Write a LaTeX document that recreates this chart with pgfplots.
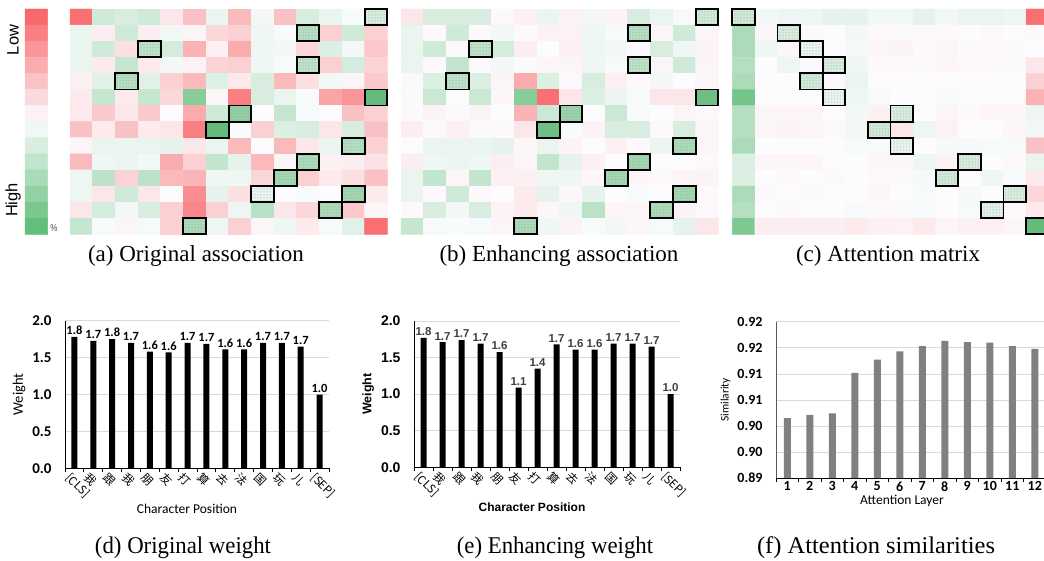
\documentclass[border=0pt]{standalone}
\usepackage{fontspec}
\setmainfont{Liberation Serif}
\newfontfamily\calibri{Carlito}
\newfontfamily\arial{Liberation Sans}
\newfontfamily\cjk{Noto Sans CJK SC}
\usepackage{pgfplots}
\pgfplotsset{compat=1.18}
\usetikzlibrary{patterns}
\pgfplotsset{/pgf/number format/assume math mode=true}
\pgfplotsset{colormap={xl}{rgb255(0cm)=(248,105,107); rgb255(100cm)=(252,252,255); rgb255(185cm)=(99,190,123)}}
\pgfdeclareplotmark{hlbox}{%
  \pgfpathrectangle{\pgfqpoint{-11.33pt}{-8.04pt}}{\pgfqpoint{22.66pt}{16.08pt}}%
  \pgfsetfillpattern{dots}{black!45}%
  \pgfusepathqfill
  \pgfpathrectangle{\pgfqpoint{-11.33pt}{-8.04pt}}{\pgfqpoint{22.66pt}{16.08pt}}%
  \pgfusepathqstroke
}
\pgfplotsset{
  hm/.style={scale only axis, height=225.3pt, xmin=-0.5, xmax=13.5, ymin=-0.5, ymax=13.5,
    y dir=reverse, hide axis, clip=false, colormap name=xl, point meta min=-1, point meta max=0.85,
    anchor=north west},
  hl/.style={only marks, mark=hlbox, mark options={line width=1.8pt, draw=black}},
  barax/.style={scale only axis, anchor=south west, ybar, bar shift=0pt,
    axis x line*=bottom, axis y line*=left, axis line style={-, black, line width=0.8pt},
    tick align=outside, major tick length=0pt, minor tick length=4pt,
    minor tick style={black, line width=0.8pt},
    ymajorgrids, grid style={gray!30, line width=0.6pt}, enlargelimits=false},
}
\begin{document}
\begin{tikzpicture}
\useasboundingbox (0,0) rectangle (1044pt,-561pt);
% ---------- colour bar ----------
\begin{axis}[hm, at={(25pt,-9pt)}, width=22.7pt, xmin=-0.5, xmax=1.5]
\addplot[matrix plot*, mesh/cols=2, point meta=explicit] table[header=false, row sep=\\,
  x expr={\coordindex-2*floor((\coordindex+0.5)/2)}, y expr={floor((\coordindex+0.5)/2)}, meta index=0] {
-1\\ -1\\ -0.846\\ -0.846\\ -0.692\\ -0.692\\ -0.538\\ -0.538\\ -0.385\\ -0.385\\ -0.231\\ -0.231\\ -0.077\\ -0.077\\
0.065\\ 0.065\\ 0.196\\ 0.196\\ 0.327\\ 0.327\\ 0.458\\ 0.458\\ 0.588\\ 0.588\\ 0.719\\ 0.719\\ 0.85\\ 0.85\\
};
\end{axis}
\node[font=\arial\fontsize{16.5}{18}\selectfont, rotate=90] at (13pt,-40pt) {Low};
\node[font=\arial\fontsize{16.5}{18}\selectfont, rotate=90] at (13pt,-200pt) {High};
\node[font=\arial\fontsize{10}{12}\selectfont, text=black!70, xscale=0.8] at (54pt,-228pt) {\%};
% ---------- (a) ----------
\begin{axis}[hm, at={(70pt,-9pt)}, width=317.3pt]
\addplot[matrix plot*, mesh/cols=14, point meta=explicit] table[header=false, row sep=\\,
  x expr={\coordindex-14*floor((\coordindex+0.5)/14)}, y expr={floor((\coordindex+0.5)/14)}, meta index=0] {
-0.95\\ 0.25\\ 0.2\\ 0.25\\ -0.15\\ -0.4\\ 0.1\\ -0.45\\ 0.05\\ -0.4\\ 0.2\\ 0.1\\ 0.02\\ 0.2\\
0.1\\ -0.1\\ 0.25\\ -0.1\\ 0.05\\ -0.05\\ -0.25\\ -0.3\\ 0.07\\ 0.02\\ 0.4\\ -0.3\\ 0.25\\ -0.3\\
0.1\\ 0.25\\ -0.2\\ 0.35\\ 0.22\\ -0.5\\ -0.08\\ -0.55\\ 0.07\\ 0.05\\ -0.25\\ 0.18\\ 0.05\\ -0.35\\
0.1\\ -0.12\\ 0.3\\ -0.12\\ 0.05\\ -0.07\\ -0.28\\ -0.3\\ 0.07\\ 0.02\\ 0.35\\ -0.3\\ 0.22\\ -0.28\\
-0.08\\ 0.15\\ 0.4\\ 0.15\\ -0.3\\ -0.45\\ 0.17\\ -0.13\\ 0.2\\ -0.45\\ -0.2\\ 0.05\\ -0.05\\ -0.35\\
-0.12\\ 0.3\\ -0.12\\ 0.3\\ -0.25\\ 0.65\\ -0.05\\ -0.85\\ 0.2\\ 0.1\\ 0.02\\ -0.6\\ -0.7\\ 0.85\\
-0.12\\ -0.35\\ -0.15\\ -0.35\\ 0\\ -0.55\\ 0.25\\ 0.6\\ 0\\ 0.3\\ 0.03\\ 0\\ -0.4\\ -0.3\\
-0.4\\ -0.12\\ -0.4\\ -0.12\\ -0.15\\ -0.85\\ 0.85\\ 0.02\\ -0.3\\ 0.18\\ 0.2\\ -0.15\\ 0.2\\ -0.4\\
-0.05\\ 0.1\\ 0.1\\ 0.1\\ 0.12\\ -0.15\\ 0.1\\ -0.45\\ 0\\ -0.45\\ -0.15\\ 0.1\\ 0.4\\ -0.3\\
-0.45\\ 0.07\\ 0.09\\ 0.06\\ -0.55\\ -0.3\\ 0.32\\ 0.12\\ -0.45\\ -0.05\\ 0.45\\ -0.08\\ -0.1\\ -0.18\\
0.08\\ 0.35\\ -0.28\\ 0.35\\ -0.45\\ -0.48\\ 0.07\\ 0.07\\ -0.25\\ 0.5\\ -0.3\\ -0.12\\ -0.2\\ -0.4\\
0.08\\ -0.15\\ 0.25\\ -0.15\\ 0\\ -0.75\\ 0.12\\ -0.2\\ 0.1\\ 0\\ 0.02\\ 0\\ 0.5\\ -0.12\\
-0.15\\ 0.22\\ 0.05\\ 0.2\\ -0.3\\ -0.8\\ -0.3\\ 0.08\\ 0.38\\ -0.15\\ -0.25\\ 0.45\\ -0.35\\ -0.05\\
0.3\\ 0.03\\ -0.05\\ 0.03\\ -0.3\\ 0.45\\ 0.08\\ -0.3\\ -0.05\\ 0.07\\ -0.12\\ 0.03\\ 0.15\\ -0.95\\
};
\addplot[hl] coordinates {(13,0) (10,1) (3,2) (10,3) (2,4) (13,5) (7,6) (6,7) (12,8) (10,9) (9,10) (8,11) (12,11) (11,12) (5,13)};
\end{axis}
% ---------- (b) ----------
\begin{axis}[hm, at={(401pt,-9pt)}, width=317.3pt]
\addplot[matrix plot*, mesh/cols=14, point meta=explicit] table[header=false, row sep=\\,
  x expr={\coordindex-14*floor((\coordindex+0.5)/14)}, y expr={floor((\coordindex+0.5)/14)}, meta index=0] {
-0.15\\ 0.2\\ 0.2\\ 0.2\\ -0.03\\ -0.08\\ 0.1\\ -0.07\\ 0.05\\ -0.06\\ 0.2\\ 0.1\\ 0.03\\ 0.25\\
0.1\\ -0.03\\ 0.25\\ -0.03\\ 0.05\\ -0.02\\ -0.07\\ -0.07\\ 0.07\\ 0.03\\ 0.4\\ -0.05\\ 0.25\\ -0.05\\
0.1\\ 0.25\\ -0.03\\ 0.35\\ 0.22\\ -0.1\\ 0\\ -0.08\\ 0.07\\ 0.05\\ -0.03\\ 0.2\\ 0.07\\ -0.06\\
0.1\\ -0.03\\ 0.32\\ -0.02\\ 0.05\\ -0.02\\ -0.05\\ -0.05\\ 0.07\\ 0.03\\ 0.35\\ -0.05\\ 0.25\\ -0.05\\
-0.02\\ 0.18\\ 0.35\\ 0.18\\ -0.05\\ -0.55\\ 0.18\\ -0.03\\ 0.2\\ -0.08\\ -0.03\\ 0.05\\ 0\\ -0.05\\
-0.02\\ 0.28\\ 0\\ 0.28\\ -0.04\\ 0.65\\ -0.95\\ -0.15\\ 0.18\\ 0.1\\ 0.03\\ -0.15\\ -0.15\\ 0.8\\
-0.02\\ -0.06\\ -0.03\\ -0.06\\ 0\\ -0.5\\ 0.28\\ 0.55\\ 0\\ 0.28\\ 0.03\\ 0\\ -0.05\\ -0.03\\
-0.1\\ -0.02\\ -0.08\\ -0.02\\ -0.03\\ -0.15\\ 0.8\\ 0.02\\ -0.06\\ 0.2\\ 0.2\\ -0.03\\ 0.2\\ -0.05\\
0\\ 0.1\\ 0.1\\ 0.1\\ 0.12\\ -0.04\\ 0.1\\ -0.06\\ 0\\ -0.08\\ -0.03\\ 0.1\\ 0.45\\ -0.05\\
-0.1\\ 0.07\\ 0.09\\ 0.07\\ -0.1\\ -0.05\\ 0.32\\ 0.12\\ -0.08\\ 0\\ 0.5\\ 0\\ 0\\ -0.03\\
0.1\\ 0.32\\ -0.05\\ 0.32\\ -0.08\\ -0.08\\ 0.07\\ 0.07\\ -0.04\\ 0.5\\ -0.04\\ -0.03\\ -0.05\\ -0.06\\
0.1\\ -0.03\\ 0.25\\ -0.03\\ 0\\ -0.12\\ 0.12\\ -0.04\\ 0.12\\ 0\\ 0.02\\ 0\\ 0.5\\ -0.03\\
-0.03\\ 0.2\\ 0.05\\ 0.2\\ -0.06\\ -0.12\\ -0.04\\ 0.07\\ 0.36\\ -0.04\\ -0.05\\ 0.45\\ -0.06\\ -0.03\\
0.3\\ 0.03\\ 0.02\\ 0.03\\ -0.05\\ 0.45\\ 0.07\\ -0.06\\ 0.02\\ 0.05\\ -0.04\\ 0.03\\ 0.12\\ -0.15\\
};
\addplot[hl] coordinates {(13,0) (10,1) (3,2) (10,3) (2,4) (13,5) (7,6) (6,7) (12,8) (10,9) (9,10) (12,11) (11,12) (5,13)};
\end{axis}
% ---------- (c) ----------
\begin{axis}[hm, at={(732.3pt,-9pt)}, width=316.4pt]
\addplot[matrix plot*, mesh/cols=14, point meta=explicit] table[header=false, row sep=\\,
  x expr={\coordindex-14*floor((\coordindex+0.5)/14)}, y expr={floor((\coordindex+0.5)/14)}, meta index=0] {
0.25\\ 0.05\\ 0.08\\ 0.08\\ 0.12\\ 0.12\\ 0.06\\ 0.06\\ 0.12\\ 0.05\\ 0.1\\ 0.1\\ 0.08\\ -0.95\\
0.45\\ -0.04\\ 0.2\\ -0.02\\ 0\\ 0.05\\ -0.03\\ -0.02\\ -0.02\\ -0.02\\ 0\\ -0.03\\ 0\\ -0.03\\
0.45\\ 0.07\\ -0.04\\ 0.1\\ 0\\ 0.04\\ -0.05\\ -0.06\\ -0.02\\ -0.05\\ -0.03\\ -0.02\\ -0.02\\ 0\\
0.4\\ 0\\ 0.08\\ -0.02\\ 0.2\\ 0.07\\ -0.03\\ -0.03\\ -0.02\\ -0.04\\ -0.03\\ -0.03\\ -0.02\\ -0.15\\
0.45\\ 0\\ 0\\ 0.25\\ -0.03\\ 0.1\\ 0\\ 0\\ 0\\ 0\\ 0\\ 0\\ 0\\ -0.3\\
0.75\\ 0\\ 0\\ 0\\ 0.1\\ 0.07\\ 0.03\\ 0\\ 0\\ 0.02\\ 0\\ 0\\ 0\\ -0.5\\
0.4\\ -0.05\\ -0.05\\ -0.05\\ 0\\ 0.06\\ -0.08\\ 0.2\\ 0\\ -0.05\\ -0.03\\ -0.04\\ -0.04\\ 0.08\\
0.4\\ -0.04\\ -0.06\\ -0.05\\ -0.03\\ 0.05\\ 0.25\\ -0.15\\ 0.08\\ -0.07\\ 0\\ 0\\ -0.04\\ 0.05\\
0.45\\ 0\\ 0\\ 0\\ 0\\ 0.03\\ 0.03\\ 0.1\\ 0\\ 0.04\\ 0.04\\ 0.03\\ 0.03\\ -0.4\\
0.18\\ -0.04\\ -0.04\\ -0.04\\ 0\\ 0\\ -0.04\\ -0.04\\ 0.08\\ -0.07\\ 0.2\\ 0\\ -0.02\\ 0.1\\
0.18\\ 0\\ -0.03\\ 0\\ -0.02\\ 0\\ -0.02\\ -0.02\\ 0.04\\ 0.25\\ 0\\ 0.07\\ 0.03\\ -0.12\\
0.45\\ -0.03\\ 0\\ -0.02\\ 0\\ 0\\ -0.04\\ 0\\ 0.03\\ 0\\ 0.04\\ 0\\ 0.2\\ -0.25\\
0.4\\ 0\\ -0.02\\ 0\\ 0\\ 0.03\\ -0.03\\ -0.03\\ 0.03\\ 0\\ 0.03\\ 0.15\\ -0.03\\ -0.12\\
0.7\\ -0.1\\ -0.1\\ -0.1\\ -0.1\\ -0.12\\ -0.08\\ -0.07\\ -0.12\\ -0.05\\ -0.08\\ -0.08\\ -0.05\\ 0.85\\
};
\addplot[hl] coordinates {(0,0) (2,1) (3,2) (4,3) (3,4) (4,5) (7,6) (6,7) (7,8) (10,9) (9,10) (12,11) (11,12) (13,13)};
\end{axis}
% ---------- captions top ----------
\node[font=\fontsize{23}{27}\selectfont] at (196pt,-256pt) {(a) Original association};
\node[font=\fontsize{23}{27}\selectfont] at (559pt,-256pt) {(b) Enhancing association};
\node[font=\fontsize{23}{27}\selectfont] at (888pt,-256pt) {(c) Attention matrix};
% ---------- (d) ----------
\begin{axis}[barax, at={(65pt,-468.3pt)}, width=264pt, height=147.6pt,
  xmin=-0.5, xmax=13.5, ymin=0, ymax=2, bar width=6pt,
  xtick={0,...,13}, xticklabels={[CLS],我,跟,我,朋,友,打,算,去,法,国,玩,儿,[SEP]},
  minor xtick={-0.5,0.5,...,13.5},
  ytick={0,0.5,1,1.5,2},
  yticklabel style={font=\calibri\bfseries\fontsize{15}{17}\selectfont, xshift=-10pt,
    /pgf/number format/fixed, /pgf/number format/fixed zerofill, /pgf/number format/precision=1},
  xticklabel style={font=\cjk\fontsize{11.5}{13}\selectfont, rotate=-45, anchor=north west, xshift=-3pt, yshift=-1pt},
  xlabel={Character Position}, ylabel={Weight},
  xlabel style={font=\calibri\fontsize{13.5}{15}\selectfont, xshift=-10pt, yshift=4pt},
  ylabel style={font=\calibri\fontsize{14.5}{16}\selectfont},
  point meta=y,
  nodes near coords={\pgfmathprintnumber[fixed,fixed zerofill,precision=1]{\pgfplotspointmeta}},
  nodes near coords style={font=\calibri\bfseries\fontsize{12.5}{14}\selectfont, inner sep=2pt},
]
\addplot[fill=black, draw=none] coordinates {(0,1.78) (1,1.725) (2,1.75) (3,1.70) (4,1.58) (5,1.57) (6,1.70) (7,1.685) (8,1.61) (9,1.61) (10,1.70) (11,1.70) (12,1.65) (13,1.00)};
\end{axis}
% ---------- (e) ----------
\begin{axis}[barax, at={(414pt,-467.3pt)}, width=266pt, height=146.3pt,
  xmin=-0.5, xmax=13.5, ymin=0, ymax=2, bar width=6pt,
  xtick={0,...,13}, xticklabels={[CLS],我,跟,我,朋,友,打,算,去,法,国,玩,儿,[SEP]},
  minor xtick={-0.5,0.5,...,13.5},
  ytick={0,0.5,1,1.5,2},
  yticklabel style={font=\arial\bfseries\fontsize{14}{16}\selectfont, xshift=-10pt,
    /pgf/number format/fixed, /pgf/number format/fixed zerofill, /pgf/number format/precision=1},
  xticklabel style={font=\cjk\fontsize{11.5}{13}\selectfont, rotate=-45, anchor=north west, xshift=-3pt, yshift=-1pt},
  xlabel={Character Position}, ylabel={Weight},
  xlabel style={font=\arial\bfseries\fontsize{12}{14}\selectfont, xshift=-15pt, yshift=4pt},
  ylabel style={font=\arial\bfseries\fontsize{12.5}{14}\selectfont},
  point meta=y,
  nodes near coords={\pgfmathprintnumber[fixed,fixed zerofill,precision=1]{\pgfplotspointmeta}},
  nodes near coords style={font=\arial\bfseries\fontsize{11.5}{13}\selectfont, text=black!75, inner sep=2pt},
]
\addplot[fill=black, draw=none] coordinates {(0,1.77) (1,1.71) (2,1.74) (3,1.69) (4,1.575) (5,1.09) (6,1.35) (7,1.68) (8,1.61) (9,1.61) (10,1.69) (11,1.69) (12,1.65) (13,1.00)};
\end{axis}
% ---------- (f) ----------
\begin{axis}[barax, at={(776pt,-478pt)}, width=270pt, height=156.3pt,
  xmin=0.5, xmax=12.5, ymin=0.89, ymax=0.92, bar width=7pt,
  xtick={1,...,12}, minor xtick={0.5,1.5,...,12.5},
  ytick={0.89,0.895,0.9,0.905,0.91,0.915,0.92},
  yticklabels={0.89,0.90,0.90,0.91,0.91,0.92,0.92},
  y axis line style={black!65},
  yticklabel style={font=\calibri\bfseries\fontsize{14}{16}\selectfont, xshift=-10pt},
  xticklabel style={font=\calibri\bfseries\fontsize{14}{16}\selectfont},
  xlabel={Attention Layer}, ylabel={Similarity},
  xlabel style={font=\calibri\fontsize{13.5}{15}\selectfont, xshift=-9pt, yshift=3pt},
  ylabel style={font=\calibri\fontsize{11.5}{13}\selectfont},
]
\addplot[fill=black!50, draw=none] coordinates {(1,0.9015) (2,0.9021) (3,0.9024) (4,0.9102) (5,0.9127) (6,0.9143) (7,0.9153) (8,0.9163) (9,0.9161) (10,0.9160) (11,0.9153) (12,0.9148)};
\end{axis}
% ---------- captions bottom ----------
\node[font=\fontsize{24}{28}\selectfont, xscale=0.95] at (183pt,-548pt) {(d) Original weight};
\node[font=\fontsize{24}{28}\selectfont, xscale=0.95] at (555pt,-548pt) {(e) Enhancing weight};
\node[font=\fontsize{24}{28}\selectfont, xscale=1.02] at (876pt,-548pt) {(f) Attention similarities};
\end{tikzpicture}
\end{document}
